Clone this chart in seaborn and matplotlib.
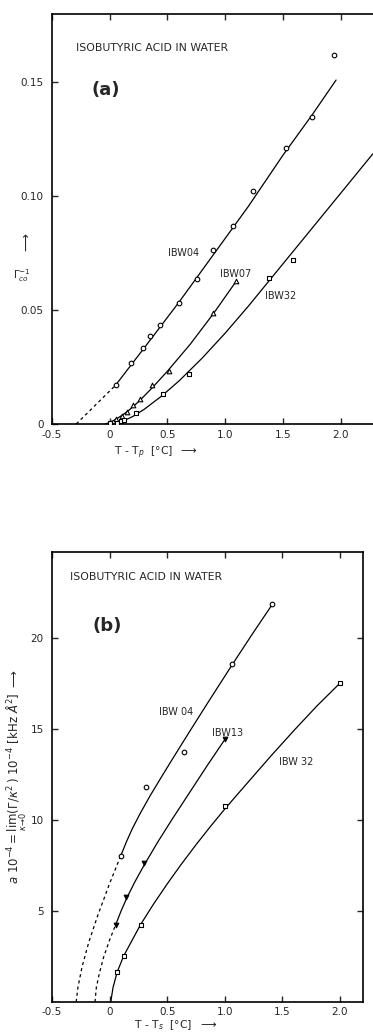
import numpy as np
import pandas as pd
import seaborn as sns
import matplotlib.pyplot as plt

# ---- panel (a): inverse amplitude vs T - Tp ----
a_x04 = [0.05, 0.18, 0.29, 0.35, 0.436, 0.60, 0.754, 0.895, 1.07, 1.245, 1.53, 1.756, 1.94]
a_y04 = [0.0172, 0.0268, 0.0334, 0.0386, 0.0435, 0.053, 0.0637, 0.0766, 0.0868, 0.1024, 0.121, 0.135, 0.162]
a_x07 = [0.01, 0.05, 0.11, 0.153, 0.205, 0.263, 0.37, 0.514, 0.89, 1.09]
a_y07 = [0.0003, 0.0022, 0.0037, 0.0054, 0.0084, 0.0109, 0.0172, 0.0231, 0.0489, 0.0629]
a_x32 = [0.0, 0.066, 0.095, 0.124, 0.23, 0.457, 0.687, 1.375, 1.588]
a_y32 = [0.0004, 0.0005, 0.0013, 0.0018, 0.0047, 0.0131, 0.0221, 0.064, 0.0722]

# fitted curves
a_fit04_x = [0.05, 0.3, 0.6, 0.9, 1.2, 1.5, 1.75, 1.96]
a_fit04_y = [0.017, 0.0335, 0.0535, 0.0745, 0.0955, 0.118, 0.1355, 0.151]
a_ext04_x = [-0.29, 0.05]
a_ext04_y = [0.0, 0.017]
a_fit07_x = [-0.04, 0.0, 0.05, 0.1, 0.15, 0.2, 0.26, 0.37, 0.5, 0.7, 0.9, 1.09]
a_fit07_y = [0.0, 0.0006, 0.002, 0.0036, 0.0054, 0.0075, 0.0103, 0.016, 0.0232, 0.0352, 0.0486, 0.0623]
a_fit32_x = [0.03, 0.1, 0.2, 0.3, 0.45, 0.6, 0.8, 1.0, 1.2, 1.4, 1.6, 1.8, 2.0, 2.28]
a_fit32_y = [0.0, 0.0009, 0.0033, 0.0065, 0.0123, 0.0189, 0.0289, 0.0399, 0.0517, 0.0641,
             0.0765, 0.0889, 0.1013, 0.1187]

# ---- panel (b): a * 1e-4 vs T - Ts ----
b_x04 = [0.095, 0.312, 0.644, 1.063, 1.41]
b_y04 = [8.0, 11.8, 13.72, 18.53, 21.83]
b_x13 = [0.052, 0.139, 0.303, 1.005]
b_y13 = [4.23, 5.79, 7.64, 14.45]
b_x32 = [0.067, 0.124, 0.269, 1.005, 2.0]
b_y32 = [1.67, 2.55, 4.25, 10.75, 17.51]

b_fit04_x = [0.095, 0.15, 0.2, 0.27, 0.35, 0.45, 0.55, 0.7, 0.85, 1.063, 1.25, 1.41]
b_fit04_y = [8.0, 8.85, 9.55, 10.4, 11.3, 12.35, 13.38, 14.9, 16.4, 18.5, 20.3, 21.8]
b_ext04_x = [-0.29, -0.275, -0.24, -0.18, -0.1, 0.0, 0.095]
b_ext04_y = [0.0, 0.8, 1.9, 3.3, 4.8, 6.5, 8.0]
b_fit13_x = [0.052, 0.1, 0.15, 0.22, 0.303, 0.42, 0.55, 0.7, 0.85, 1.005]
b_fit13_y = [4.23, 5.0, 5.72, 6.6, 7.55, 8.8, 10.1, 11.55, 13.0, 14.45]
b_ext13_x = [-0.127, -0.115, -0.09, -0.05, 0.0, 0.052]
b_ext13_y = [0.0, 0.8, 1.55, 2.5, 3.4, 4.23]
b_fit32_x = [0.01, 0.03, 0.067, 0.124, 0.269, 0.38, 0.5, 0.62, 0.75, 0.88, 1.005,
             1.2, 1.4, 1.6, 1.8, 2.0]
b_fit32_y = [0.0, 0.8, 1.67, 2.55, 4.25, 5.36, 6.48, 7.54, 8.63, 9.67, 10.63,
             12.05, 13.5, 14.9, 16.25, 17.5]

x_ticks = [-0.5, 0, 0.5, 1.0, 1.5, 2.0]
x_ticklabels = ["-0.5", "0", "0.5", "1.0", "1.5", "2.0"]
a_yticks = [0, 0.05, 0.10, 0.15]
a_yticklabels = ["0", "0.05", "0.10", "0.15"]
b_yticks = [5, 10, 15, 20]
b_yticklabels = ["5", "10", "15", "20"]

sns.set_theme(style="ticks")
plt.rcParams['font.family'] = ['DejaVu Sans']
plt.rcParams['mathtext.fontset'] = 'dejavusans'

W, H = 373, 1032
fig = plt.figure(figsize=(W / 100, H / 100), dpi=100)


def px(x, y):
    return x / W, 1 - y / H


ax_a = fig.add_axes([52 / W, 1 - 424 / H, (373 - 52) / W, (424 - 14) / H])
ax_b = fig.add_axes([52 / W, 1 - 1002 / H, (363 - 52) / W, (1002 - 552) / H])


def curve(ax, x, y, dashed=False):
    sns.lineplot(x=x, y=y, ax=ax, color="black", lw=0.9, sort=False, estimator=None,
                 linestyle=(0, (2.5, 2.5)) if dashed else "-")


def points(ax, x, y, marker, filled=False):
    sns.scatterplot(x=x, y=y, ax=ax, marker=marker, s=11,
                    facecolor="black" if filled else "white", edgecolor="black",
                    linewidth=0.8, zorder=3)


# panel (a)
curve(ax_a, a_fit04_x, a_fit04_y)
curve(ax_a, a_ext04_x, a_ext04_y, dashed=True)
curve(ax_a, a_fit07_x, a_fit07_y)
curve(ax_a, a_fit32_x, a_fit32_y)
points(ax_a, a_x04, a_y04, "o")
points(ax_a, a_x07, a_y07, "^")
points(ax_a, a_x32, a_y32, "s")
ax_a.set_xlim(-0.5, 2.28)
ax_a.set_ylim(0, 0.18)
ax_a.set_yticks(a_yticks, a_yticklabels)
ax_a.spines["right"].set_visible(False)

# panel (b)
curve(ax_b, b_fit04_x, b_fit04_y)
curve(ax_b, b_ext04_x, b_ext04_y, dashed=True)
curve(ax_b, b_fit13_x, b_fit13_y)
curve(ax_b, b_ext13_x, b_ext13_y, dashed=True)
curve(ax_b, b_fit32_x, b_fit32_y)
points(ax_b, b_x04, b_y04, "o")
points(ax_b, b_x13, b_y13, "v", filled=True)
points(ax_b, b_x32, b_y32, "s")
ax_b.set_xlim(-0.5, 2.2)
ax_b.set_ylim(0, 24.7)
ax_b.set_yticks(b_yticks, b_yticklabels)

for ax in (ax_a, ax_b):
    ax.set_xticks(x_ticks, x_ticklabels)
    ax.set_xlabel("")
    ax.set_ylabel("")
    ax.tick_params(direction="in", length=4, width=1, labelsize=7.5,
                   top=True, right=(ax is ax_b))
    ax.tick_params(axis="y", pad=6)
    ax.tick_params(axis="x", pad=4 if ax is ax_a else 3.5)
    for sp in ax.spines.values():
        sp.set_linewidth(1.2)
        sp.set_color("black")

# annotations, panel (a)
ax_a.text(-0.29, 0.165, "ISOBUTYRIC ACID IN WATER", fontsize=7.8, va="center")
ax_a.text(-0.16, 0.1466, "(a)", fontsize=13, fontweight="bold", va="center")
ax_a.text(0.505, 0.0752, "IBW04", fontsize=7, va="center")
ax_a.text(0.956, 0.0659, "IBW07", fontsize=7, va="center")
ax_a.text(1.346, 0.0563, "IBW32", fontsize=7, va="center")
fig.text(*px(156, 453), r"T - T$_p$  [°C]  $\longrightarrow$", fontsize=7.8,
         ha="center", va="center")
fig.text(*px(22, 276), r"$\Gamma_{co}^{-1}$", fontsize=7.5, ha="center", va="center")
fig.text(*px(26, 243), r"$\longrightarrow$", fontsize=9, rotation=90,
         ha="center", va="center")

# annotations, panel (b)
ax_b.text(-0.344, 23.33, "ISOBUTYRIC ACID IN WATER", fontsize=7.8, va="center")
ax_b.text(-0.15, 20.64, "(b)", fontsize=13, fontweight="bold", va="center")
ax_b.text(0.427, 15.92, "IBW 04", fontsize=7, va="center")
ax_b.text(0.886, 14.77, "IBW13", fontsize=7, va="center")
ax_b.text(1.467, 13.17, "IBW 32", fontsize=7, va="center")
fig.text(*px(176, 1025), r"T - T$_s$  [°C]  $\longrightarrow$", fontsize=7.8,
         ha="center", va="center")
fig.text(*px(17, 777),
         r"$a\ 10^{-4} = \lim_{\kappa\to 0}(\Gamma/\kappa^2)\ 10^{-4}\ [\mathrm{kHz}\ \AA^2]\ \longrightarrow$",
         fontsize=8.5, rotation=90, ha="center", va="center")

fig.savefig("out.png", dpi=100, facecolor="white")
